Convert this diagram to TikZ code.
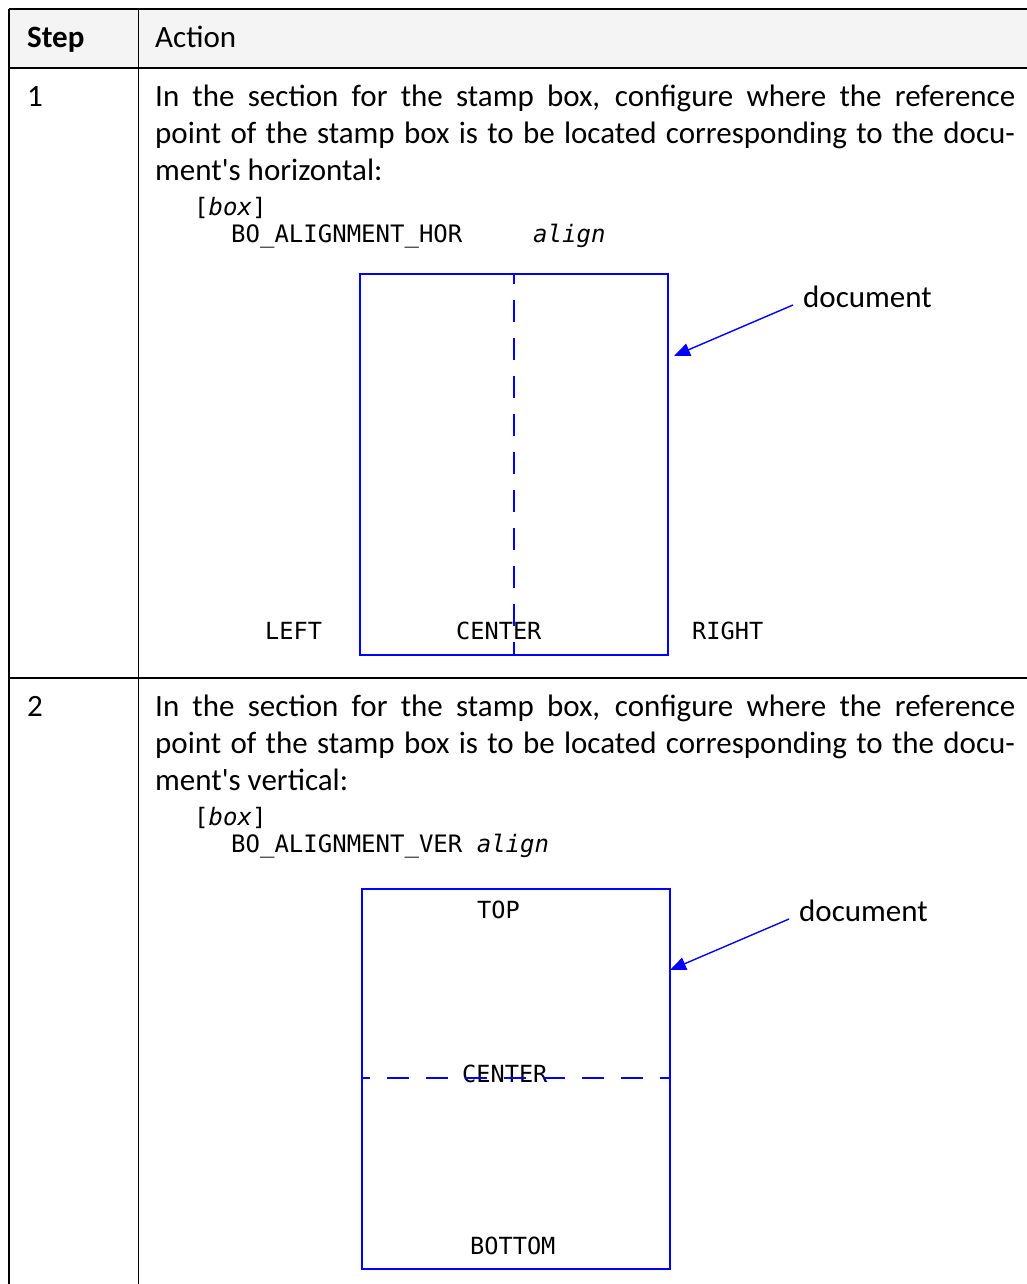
\documentclass[tikz,border=0pt]{standalone}
\usepackage{fontspec}
\setmainfont{Carlito}[Ligatures=TeXOff]
\newfontfamily\mymono{DejaVu Sans Mono}
\usetikzlibrary{arrows.meta}
\definecolor{hdrgray}{HTML}{F4F4F4}
\definecolor{docblue}{HTML}{0000FF}
\tikzset{
  txt/.style={anchor=base west, inner sep=0pt, font=\fontsize{31}{37}\selectfont},
  hdr/.style={txt, font=\fontsize{31}{37}\selectfont\bfseries},
  code/.style={anchor=base west, inner sep=0pt, font=\fontsize{24}{27}\selectfont\mymono},
  lbl/.style={anchor=base west, inner sep=0pt, font=\fontsize{23.6}{27}\selectfont\mymono},
  rule/.style={line width=1.3pt, black},
  docbox/.style={draw=docblue, line width=2pt},
  dashv/.style={draw=docblue, line width=2pt, dash pattern=on 22pt off 16pt, dash phase=12pt},
  dashh/.style={draw=docblue, line width=2pt, dash pattern=on 22pt off 17pt, dash phase=14pt},
  docarrow/.style={draw=docblue, line width=1.4pt, -{Triangle[length=16pt,width=13pt]}}
}
\newcommand{\jline}[1]{\makebox[860pt][s]{#1}}
\begin{document}
\begin{tikzpicture}[x=1pt,y=-1pt]
\useasboundingbox (0,0) rectangle (1027,1284);
% header background
\fill[hdrgray] (9,9) rectangle (1027,68);
% table rules
\draw[rule] (9,9) -- (1027,9);
\draw[rule] (9,68) -- (1027,68);
\draw[rule] (9,678) -- (1027,678);
\draw[rule] (9,9) -- (9,1284);
\draw[rule] (138.5,9) -- (138.5,1284);
% header
\node[hdr] (hstep) at (27,48) {Step};
\node[txt] (haction) at (155,48) {Action};
% row 1
\node[txt] (n1) at (27,107) {1};
\node[txt] (r1l1) at (155,107) {\jline{In the section for the stamp box, configure where the reference}};
\node[txt] (r1l2) at (155,144) {\jline{point of the stamp box is to be located corresponding to the docu-}};
\node[txt] (r1l3) at (155,181) {ment's horizontal:};
\node[code] (r1c1) at (194,215) {[\textit{box}]};
\node[code] (r1c2) at (231,242) {BO\_ALIGNMENT\_HOR};
\node[code] (r1c3) at (533,242) {\textit{align}};
% diagram 1
\draw[docbox] (360,274) rectangle (668,655);
\node[lbl] (left) at (265,639) {LEFT};
\node[lbl] (center1) at (456,639) {CENTER};
\node[lbl] (right) at (692,639) {RIGHT};
\coordinate (v1top) at (514,274);
\coordinate (v1bot) at (514,655);
\draw[dashv] (v1top) -- (v1bot);
\node[txt] (doc1) at (803,307) {document};
\coordinate (a1s) at (793,305);
\coordinate (a1e) at (674,356);
\draw[docarrow] (a1s) -- (a1e);
% row 2
\node[txt] (n2) at (27,716) {2};
\node[txt] (r2l1) at (155,716) {\jline{In the section for the stamp box, configure where the reference}};
\node[txt] (r2l2) at (155,753) {\jline{point of the stamp box is to be located corresponding to the docu-}};
\node[txt] (r2l3) at (155,790) {ment's vertical:};
\node[code] (r2c1) at (194,825) {[\textit{box}]};
\node[code] (r2c2) at (231,852) {BO\_ALIGNMENT\_VER \textit{align}};
% diagram 2
\draw[docbox] (362,889) rectangle (670,1269);
\node[lbl] (top) at (477,918) {TOP};
\node[lbl] (center2) at (462,1082) {CENTER};
\node[lbl] (bottom) at (470,1254) {BOTTOM};
\coordinate (h2l) at (362,1078);
\coordinate (h2r) at (670,1078);
\draw[dashh] (h2l) -- (h2r);
\node[txt] (doc2) at (799,921) {document};
\coordinate (a2s) at (789,919);
\coordinate (a2e) at (670,970);
\draw[docarrow] (a2s) -- (a2e);
\end{tikzpicture}
\end{document}
